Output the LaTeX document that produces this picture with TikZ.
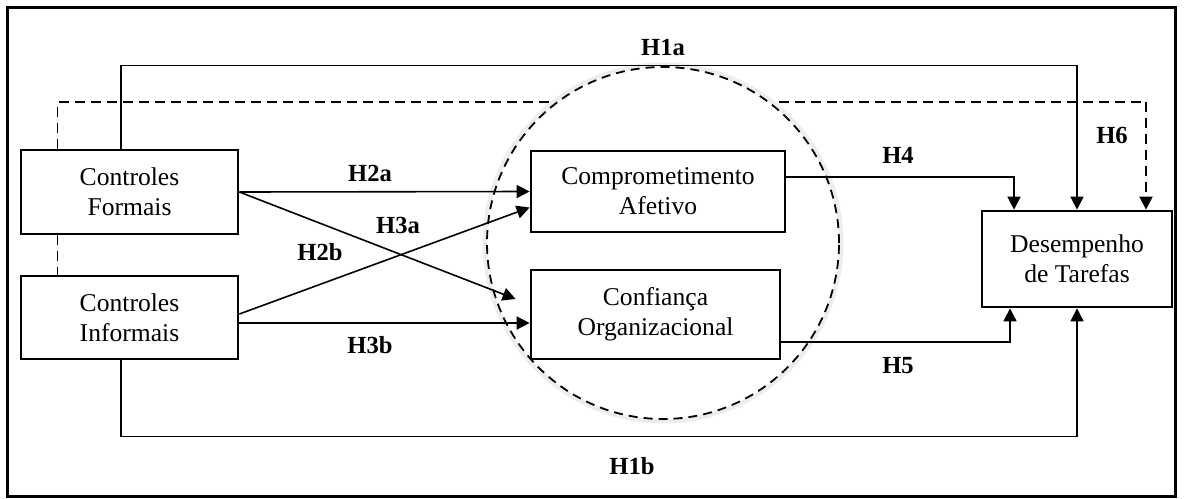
\documentclass[tikz,border=0pt]{standalone}
\usepackage{fontspec}
\setmainfont{Liberation Serif}
\usetikzlibrary{arrows.meta,positioning,backgrounds}

\tikzset{
	construct/.style={draw, line width=1.35pt, align=center, inner sep=0pt,
	  font=\fontsize{12.8}{15}\selectfont},
	hyp/.style={font=\bfseries\fontsize{12.3}{14}\selectfont},
	link/.style={line width=0.8pt, -{Triangle[length=6.5pt,width=6.5pt]}},
	dashlink/.style={link, line width=0.9pt, dash pattern=on 5pt off 3pt},
}

\begin{document}
\begin{tikzpicture}[x=0.5pt,y=-0.5pt]
	\useasboundingbox (0,0) rectangle (1186,498);
	\draw[line width=1.5pt] (7,7) rectangle (1175,496);

	\node[construct, minimum width=108.5pt, minimum height=42pt] (formais) at (129.5,192) {Controles\\Formais};
	\node[construct, minimum width=108.5pt, minimum height=41.5pt] (informais) at (129.5,317.5) {Controles\\Informais};
	\node[construct, minimum width=127pt, minimum height=40.5pt] (afetivo) at (658,191.5) {Comprometimento\\Afetivo};
	\node[construct, minimum width=124.5pt, minimum height=44.5pt] (confianca) at (655.5,314.5) {Confian\c{c}a\\Organizacional};
	\node[construct, minimum width=95pt, minimum height=48pt] (tarefas) at (1077,259) {Desempenho\\de Tarefas};

	\begin{scope}[on background layer]
	  \draw[dashlink] ([xshift=-36pt]formais.north) -- ++(0,-47) -| ([xshift=34.5pt]tarefas.north);
	  \node[circle, draw=black!7, line width=3pt, minimum size=177.5pt] (halo) at (663,243) {};
	  \node[circle, draw, fill=white, line width=0.9pt, dash pattern=on 4.5pt off 3pt,
	    minimum size=176pt] (ring) at (663,243) {};
	\end{scope}

	\draw[dashlink, -] ([xshift=-36pt]formais.south) -- ([xshift=-36pt]informais.north);
	\draw[link] ([xshift=-4.25pt]formais.north) -- ++(0,-83) -| (tarefas.north);
	\draw[link] ([xshift=-4.25pt]informais.south) -- ++(0,76) -| (tarefas.south);
	\draw[link] (formais.east) -- (afetivo.west);
	\draw[link] (formais.east) -- ([xshift=-7pt,yshift=7.75pt]confianca.west);
	\draw[link] ([yshift=1.75pt]informais.east) -- ([yshift=-8pt]afetivo.west);
	\draw[link] ([yshift=-2.75pt]informais.east) -- ([yshift=-4.25pt]confianca.west);
	\draw[link] ([yshift=7.25pt]afetivo.east) -| ([xshift=-31.5pt]tarefas.north);
	\draw[link] ([yshift=-13.75pt]confianca.east) -| ([xshift=-33.5pt]tarefas.south);

	\node[hyp] (h1a) at (663,47) {H1a};
	\node[hyp] (h6) at (1112,135) {H6};
	\node[hyp] (h4) at (898,155) {H4};
	\node[hyp] (h2a) at (370,173) {H2a};
	\node[hyp] (h3a) at (398,225) {H3a};
	\node[hyp] (h2b) at (320,252) {H2b};
	\node[hyp] (h3b) at (370,345) {H3b};
	\node[hyp] (h5) at (898,366) {H5};
	\node[hyp] (h1b) at (632,466) {H1b};
\end{tikzpicture}
\end{document}
